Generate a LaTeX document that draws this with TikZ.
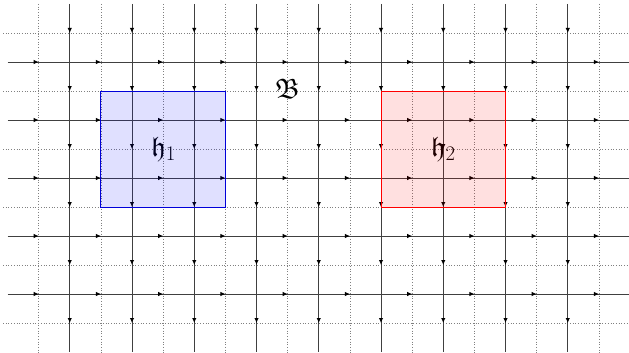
\documentclass[tikz,border=0pt]{standalone}
\usepackage{amssymb}
\usetikzlibrary{decorations.markings,arrows.meta}
\begin{document}
\begin{tikzpicture}[x=1pt,y=-1pt,
  dualline/.style={black!50, dotted, line width=0.7pt},
  edgeline/.style={black!75, line width=0.9pt, postaction={decorate},
    decoration={markings, mark=at position 0.5 with {\arrow[black]{Latex[length=5pt,width=4.5pt]}}}},
  boxone/.style={draw=blue!85!black, line width=1pt, fill=blue, fill opacity=0.12},
  boxtwo/.style={draw=red, line width=1pt, fill=red, fill opacity=0.12},
  lbl/.style={inner sep=0pt, font=\fontsize{28}{30}\selectfont}]
\useasboundingbox (0,0) rectangle (629,353);
% dual (dotted) lattice
\foreach \i in {0,...,9} \draw[dualline] ({38.6+62.25*\i},4) -- ({38.6+62.25*\i},353);
\foreach \j in {0,...,5} \draw[dualline] (3,{33+58*\j}) -- (629,{33+58*\j});
% primal lattice with arrows at edge midpoints
\foreach \i in {1,...,9} \foreach \j in {0,...,5}
  \draw[edgeline] ({7.5+62.25*\i},{4+58*\j}) -- ({7.5+62.25*\i},{62+58*\j});
\foreach \j in {1,...,5} \foreach \i in {0,...,9}
  \draw[edgeline] ({7.5+62.25*\i},{4+58*\j}) -- ({69.75+62.25*\i},{4+58*\j});
% labels
\node[lbl] (h1) at (163.6,149) {$\mathfrak{h}_1$};
\node[lbl] (h2) at (443.3,149) {$\mathfrak{h}_2$};
\node[lbl] (B) at (287.6,89) {$\mathfrak{B}$};
% regions
\draw[boxone] (100.9,91) rectangle (225.4,207);
\draw[boxtwo] (381,91) rectangle (505.5,207);
\end{tikzpicture}
\end{document}
